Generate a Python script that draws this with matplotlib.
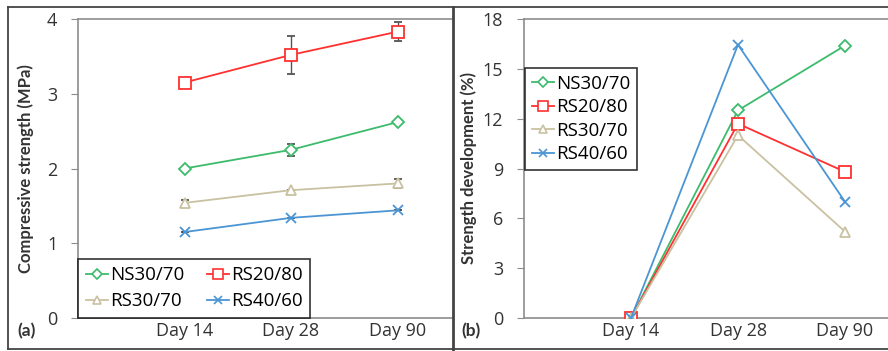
import matplotlib.pyplot as plt
from matplotlib.lines import Line2D

plt.rcParams['font.family'] = ['Open Sans', 'DejaVu Sans']

days = ["Day 14", "Day 28", "Day 90"]
series = ["NS30/70", "RS20/80", "RS30/70", "RS40/60"]
colors = ["#3dbb6c", "#ff3030", "#c9c1a1", "#4b95d4"]
markers = ["D", "s", "^", "x"]
msizes = [6, 8.5, 7.5, 7.5]

# compressive strength (MPa) and its error bars
strength = {
    "NS30/70": [2.00, 2.25, 2.62],
    "RS20/80": [3.15, 3.52, 3.83],
    "RS30/70": [1.54, 1.71, 1.80],
    "RS40/60": [1.15, 1.34, 1.44],
}
strength_err = {
    "NS30/70": [0.0, 0.08, 0.0],
    "RS20/80": [0.0, 0.25, 0.13],
    "RS30/70": [0.04, 0.0, 0.06],
    "RS40/60": [0.0, 0.0, 0.0],
}

# strength development (%)
development = {
    "NS30/70": [0.0, 12.5, 16.4],
    "RS20/80": [0.0, 11.7, 8.8],
    "RS30/70": [0.0, 11.0, 5.2],
    "RS40/60": [0.0, 16.45, 7.0],
}

W, H = 888, 351
fig = plt.figure(figsize=(W / 100, H / 100), dpi=100)

spine_col = "#8c8c8c"
text_col = "#333333"


def make_axes(x0, x1, y0, y1):
    ax = fig.add_axes([x0 / W, 1 - y1 / H, (x1 - x0) / W, (y1 - y0) / H])
    for s in ["top", "left", "bottom"]:
        ax.spines[s].set_color(spine_col)
        ax.spines[s].set_linewidth(1.2)
    ax.spines["right"].set_visible(False)
    ax.tick_params(axis="y", direction="out", length=5, color=spine_col,
                   labelsize=13, labelcolor=text_col, pad=10)
    ax.tick_params(axis="x", length=0, labelsize=13, labelcolor=text_col, pad=3)
    ax.set_xticks([1, 2, 3])
    ax.set_xticklabels(days)
    return ax


xs = [1, 2, 3]

# panel (a)
ax1 = make_axes(78, 452, 19, 318)
for name, c, m, ms in zip(series, colors, markers, msizes):
    ax1.errorbar(xs, strength[name], yerr=strength_err[name], color=c, lw=1.3,
                 marker=m, ms=ms, mfc="white", mec=c, mew=1.3,
                 ecolor="#555555", elinewidth=1.0, capsize=3, capthick=1.0,
                 zorder=3)
ax1.set_xlim(0, (452 - 78) / 106.5)
ax1.set_ylim(0, 4)
ax1.set_yticks([0, 1, 2, 3, 4])
ax1.set_ylabel("Compressive strength (MPa)", fontsize=12, fontweight="bold",
               family="Lato", color=text_col, labelpad=9)

handles = [Line2D([], [], color=c, lw=1.3, marker=m, ms=ms * 0.85, mfc="white",
                  mec=c, mew=1.2) for c, m, ms in zip(colors, markers, msizes)]
# two-column legend fills column by column: put items in row order
order = [0, 2, 1, 3]
leg1 = ax1.legend([handles[i] for i in order], [series[i] for i in order],
                  ncol=2, loc="lower left", bbox_to_anchor=(0.0, 0.0),
                  fontsize=13.5, frameon=True, fancybox=False,
                  edgecolor="black", handlelength=1.2, handletextpad=0.1,
                  columnspacing=1.2, borderpad=0.4, labelspacing=0.45,
                  borderaxespad=0.0)
leg1.get_frame().set_linewidth(1.2)

# panel (b)
ax2 = make_axes(524, 900, 19, 318)
for name, c, m, ms in zip(series, colors, markers, msizes):
    ax2.plot(xs, development[name], color=c, lw=1.3, marker=m, ms=ms,
             mfc="white", mec=c, mew=1.3, zorder=3)
ax2.set_xlim(0, (900 - 524) / 107)
ax2.set_ylim(0, 18)
ax2.set_yticks([0, 3, 6, 9, 12, 15, 18])
ax2.set_ylabel("Strength development (%)", fontsize=12, fontweight="bold",
               family="Lato", color=text_col, labelpad=4)
leg2 = ax2.legend(handles, series, ncol=1, loc="upper left",
                  bbox_to_anchor=(0.003, 0.836), fontsize=13.5, frameon=True,
                  fancybox=False, edgecolor="black", handlelength=1.2,
                  handletextpad=0.1, borderpad=0.35, labelspacing=0.3,
                  borderaxespad=0.0)
leg2.get_frame().set_linewidth(1.2)

# panel labels
fig.text(17 / W, 1 - 331 / H, "(a)", fontsize=12.5, fontweight="bold",
         family="Lato", color=text_col, va="center")
fig.text(461 / W, 1 - 331 / H, "(b)", fontsize=12.5, fontweight="bold",
         family="Lato", color=text_col, va="center")

# outer frame and divider
frame_col = "#444444"
fig.add_artist(Line2D([8 / W, 1], [1 - 6.5 / H, 1 - 6.5 / H], color=frame_col, lw=1.3))
fig.add_artist(Line2D([8 / W, 8 / W], [1 - 6.5 / H, 1 - 349 / H], color=frame_col, lw=1.3))
fig.add_artist(Line2D([8 / W, 1], [1 - 349 / H, 1 - 349 / H], color=frame_col, lw=1.3))
fig.add_artist(Line2D([452.5 / W, 452.5 / W], [1 - 6.5 / H, 0], color=frame_col, lw=2))

fig.savefig("out.png", dpi=100)
